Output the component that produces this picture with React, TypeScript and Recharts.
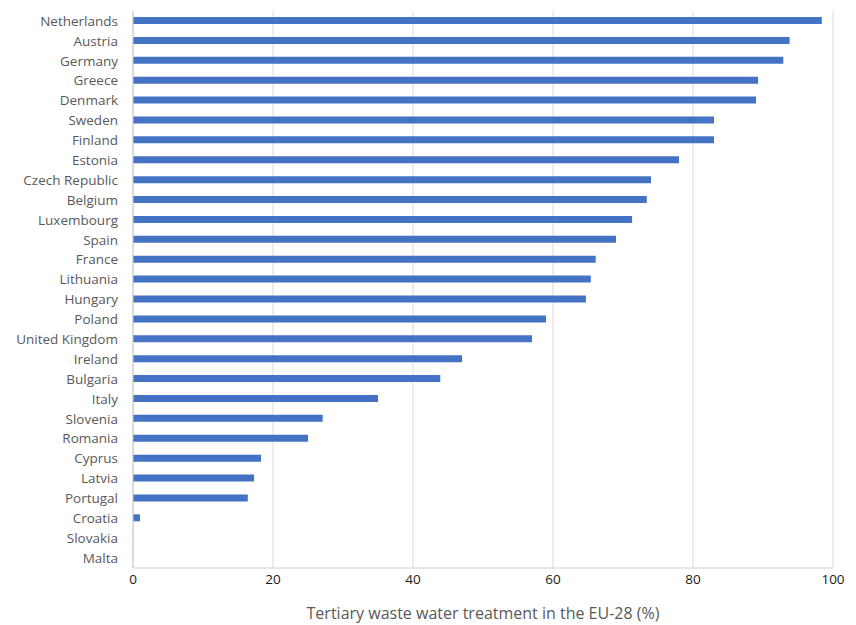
import React from "react";
import { BarChart, Bar, XAxis, YAxis, CartesianGrid } from "recharts";

const countries = [
  "Netherlands", "Austria", "Germany", "Greece", "Denmark", "Sweden", "Finland",
  "Estonia", "Czech Republic", "Belgium", "Luxembourg", "Spain", "France",
  "Lithuania", "Hungary", "Poland", "United Kingdom", "Ireland", "Bulgaria",
  "Italy", "Slovenia", "Romania", "Cyprus", "Latvia", "Portugal", "Croatia",
  "Slovakia", "Malta",
];

const values = [
  98.4, 93.8, 92.9, 89.3, 89.0, 83.0, 83.0, 78.0, 74.0, 73.4, 71.3, 69.0, 66.1,
  65.4, 64.7, 59.0, 57.0, 47.0, 43.9, 35.0, 27.1, 25.0, 18.3, 17.3, 16.4, 1.0,
  0, 0,
];

const xTicks = [0, 20, 40, 60, 80, 100];
const axisTitle = "Tertiary waste water treatment in the EU-28 (%)";

const data = countries.map((c, i) => ({ country: c, value: values[i] }));

const FONT = "'Open Sans', sans-serif";

export default function App() {
  return (
    <div style={{ position: "absolute", left: 0, top: 0, background: "#fff" }}>
      <BarChart
        width={856}
        height={625}
        data={data}
        layout="vertical"
        margin={{ top: 11, right: 23, bottom: 0, left: 0 }}
      >
        <CartesianGrid horizontal={false} stroke="#d9d9d9" />
        <XAxis
          xAxisId="top"
          orientation="top"
          type="number"
          domain={[0, 100]}
          ticks={xTicks}
          height={0}
          tick={false}
          tickLine={false}
          axisLine={{ stroke: "#c8ccd4" }}
        />
        <XAxis
          type="number"
          domain={[0, 100]}
          ticks={xTicks}
          tickLine={false}
          axisLine={{ stroke: "#c8d0e0" }}
          tick={{ fill: "#1a1a1a", fontSize: 13.5, fontFamily: FONT }}
          tickMargin={6}
          tickSize={0}
          height={57}
          label={{
            value: axisTitle,
            position: "insideBottom",
            offset: 6,
            fill: "#595959",
            fontSize: 16,
            fontFamily: FONT,
          }}
        />
        <YAxis
          type="category"
          dataKey="country"
          width={133}
          tickLine={false}
          tickSize={0}
          tickMargin={15}
          interval={0}
          axisLine={{ stroke: "#c8ccd4" }}
          tick={{ fill: "#595959", fontSize: 13.5, fontFamily: FONT }}
        />
        <YAxis
          yAxisId="right"
          orientation="right"
          type="category"
          dataKey="country"
          width={0}
          tick={false}
          tickLine={false}
          axisLine={{ stroke: "#c8ccd4" }}
        />
        <Bar dataKey="value" fill="#4472C4" barSize={7} isAnimationActive={false} />
      </BarChart>
    </div>
  );
}
